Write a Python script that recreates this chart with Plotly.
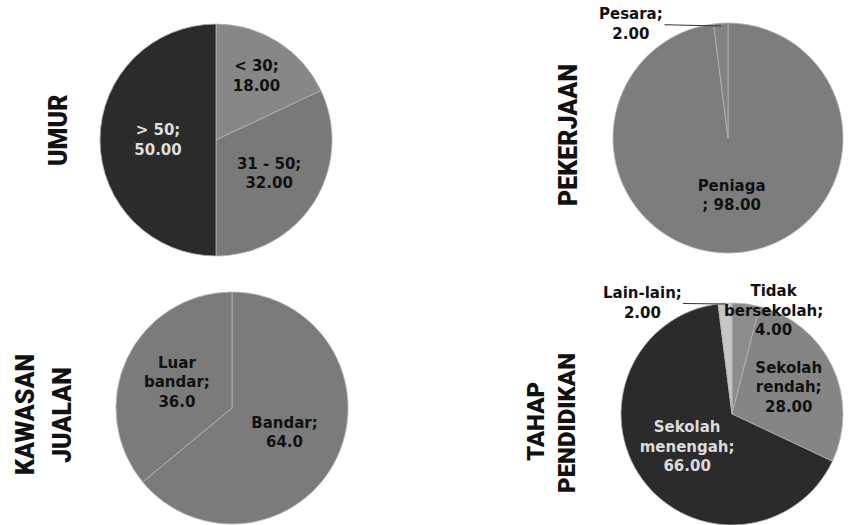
import plotly.graph_objects as go

# ---------------- data ----------------
umur_labels = ["< 30", "31 - 50", "> 50"]
umur_values = [18, 32, 50]

pekerjaan_labels = ["Peniaga", "Pesara"]
pekerjaan_values = [98, 2]

kawasan_labels = ["Bandar", "Luar bandar"]
kawasan_values = [64, 36]

pendidikan_labels = ["Tidak bersekolah", "Sekolah rendah", "Sekolah menengah", "Lain-lain"]
pendidikan_values = [4, 28, 66, 2]

titles = ["UMUR", "PEKERJAAN", "KAWASAN", "JUALAN", "TAHAP", "PENDIDIKAN"]

# ---------------- styling ----------------
W, H = 851, 525
BODY_FONT = "DejaVu Sans"
TITLE_FONT = "Roboto, sans-serif"
FS = 15
DARK = "#2b2b2b"
EDGE = dict(color="#b4b4b4", width=0.8)


def dom(cx, cy, r):
    return dict(x=[(cx - r) / W, (cx + r) / W],
                y=[max(0, (H - cy - r) / H), min(1, (H - cy + r) / H)])


def br(s):
    return s.replace(" ", "<br>")


fig = go.Figure()

# UMUR
fig.add_trace(go.Pie(
    labels=umur_labels, values=umur_values, sort=False, direction="clockwise", rotation=0,
    domain=dom(216, 140, 116),
    marker=dict(colors=["#878787", "#797979", DARK], line=EDGE),
    text=[f"{l};<br>{v:.2f}" for l, v in zip(umur_labels, umur_values)],
    textinfo="text", textposition="inside", insidetextorientation="horizontal",
    insidetextfont=dict(family=BODY_FONT, size=FS, weight="bold",
                        color=["#111111", "#111111", "#dedede"]),
    hoverinfo="label+value", showlegend=False,
))

# PEKERJAAN
fig.add_trace(go.Pie(
    labels=pekerjaan_labels, values=pekerjaan_values, sort=False, direction="clockwise", rotation=0,
    domain=dom(728, 138, 115),
    marker=dict(colors=["#7d7d7d", "#828282"], line=EDGE),
    text=[f"{pekerjaan_labels[0]}<br>; {pekerjaan_values[0]:.2f}", ""],
    textinfo="text", textposition=["inside", "none"], insidetextorientation="horizontal",
    insidetextfont=dict(family=BODY_FONT, size=FS, weight="bold", color="#111111"),
    hoverinfo="label+value", showlegend=False,
))

# KAWASAN JUALAN
fig.add_trace(go.Pie(
    labels=kawasan_labels, values=kawasan_values, sort=False, direction="clockwise", rotation=0,
    domain=dom(232, 408, 116),
    marker=dict(colors=["#7b7b7b", "#7b7b7b"], line=EDGE),
    text=[f"{kawasan_labels[0]};<br>{kawasan_values[0]:.1f}",
          f"{br(kawasan_labels[1])};<br>{kawasan_values[1]:.1f}"],
    textinfo="text", textposition="inside", insidetextorientation="horizontal",
    insidetextfont=dict(family=BODY_FONT, size=FS, weight="bold", color="#111111"),
    hoverinfo="label+value", showlegend=False,
))

# TAHAP PENDIDIKAN
fig.add_trace(go.Pie(
    labels=pendidikan_labels, values=pendidikan_values, sort=False, direction="clockwise", rotation=0,
    domain=dom(732, 414, 111),
    marker=dict(colors=["#8c8c8c", "#858585", DARK, "#c6c6c6"], line=EDGE),
    text=["", f"{br(pendidikan_labels[1])};<br>{pendidikan_values[1]:.2f}",
          f"{br(pendidikan_labels[2])};<br>{pendidikan_values[2]:.2f}", ""],
    textinfo="text", textposition=["none", "inside", "inside", "none"],
    insidetextorientation="horizontal",
    insidetextfont=dict(family=BODY_FONT, size=FS, weight="bold",
                        color=["#111111", "#111111", "#dcdcdc", "#111111"]),
    hoverinfo="label+value", showlegend=False,
))

ann_font = dict(family=BODY_FONT, size=FS, weight="bold", color="#111111")
annotations = [
    # outside labels
    dict(x=721 / W, y=(H - 26) / H, xref="paper", yref="paper",
         text=f"{pekerjaan_labels[1]};<br>{pekerjaan_values[1]:.2f}",
         showarrow=True, arrowhead=0, arrowwidth=1, arrowcolor="#333333",
         ax=-90, ay=-2, font=ann_font),
    dict(x=726 / W, y=(H - 304) / H, xref="paper", yref="paper",
         text=f"{pendidikan_labels[3]};<br>{pendidikan_values[3]:.2f}",
         showarrow=True, arrowhead=0, arrowwidth=1, arrowcolor="#333333",
         ax=-84, ay=-1, font=ann_font),
    dict(x=773 / W, y=(H - 310) / H, xref="paper", yref="paper",
         xanchor="center", yanchor="middle",
         text=f"{br(pendidikan_labels[0])};<br>{pendidikan_values[0]:.2f}",
         showarrow=False, font=ann_font),
]

title_pos = [(58, 130, 25), (568, 135, 25), (25, 415, 25), (62, 415, 25), (536, 422, 24), (567, 423, 24)]
for t, (x, y, s) in zip(titles, title_pos):
    annotations.append(dict(x=x / W, y=(H - y) / H, xref="paper", yref="paper", text=t,
                            xanchor="center", yanchor="middle",
                            showarrow=False, textangle=-90,
                            font=dict(family=TITLE_FONT, size=s, weight=900, color="#111111")))

fig.update_layout(
    width=W, height=H, margin=dict(l=0, r=0, t=0, b=0),
    paper_bgcolor="white", plot_bgcolor="white",
    annotations=annotations,
    uniformtext=dict(minsize=FS, mode="show"),
)

fig.write_html("out.html")
